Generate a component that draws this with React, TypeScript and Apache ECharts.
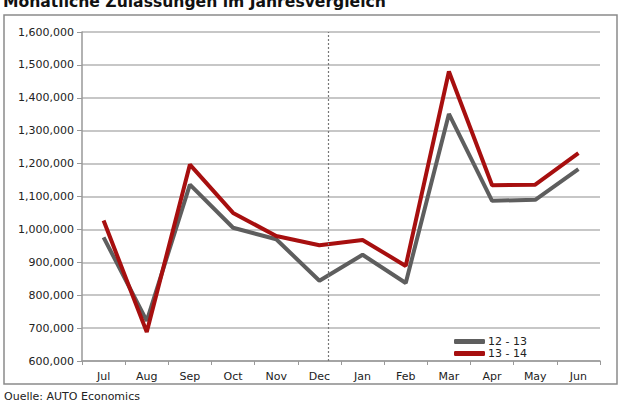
import React, { useEffect, useRef } from 'react';
import * as echarts from 'echarts';

// Monate (Juli bis Juni)
const months = ['Jul', 'Aug', 'Sep', 'Oct', 'Nov', 'Dec', 'Jan', 'Feb', 'Mar', 'Apr', 'May', 'Jun'];

// Zulassungen 2012/13
const season1213 = [976000, 722000, 1136000, 1005000, 970000, 844000, 923000, 837000, 1351000, 1087000, 1090000, 1183000];

// Zulassungen 2013/14
const season1314 = [1027000, 688000, 1197000, 1050000, 980000, 952000, 968000, 889000, 1480000, 1134000, 1136000, 1232000];

const seriesNames = ['12 - 13', '13 - 14'];

// Trennlinie (Position in Kategorien, 0 = Jul)
const dividerPos = 5.2;

const FONT = '"DejaVu Sans", Verdana, sans-serif';

const App: React.FC = () => {
  const chartRef = useRef<HTMLDivElement>(null);

  useEffect(() => {
    document.body.style.margin = '0';
    if (!chartRef.current) return;
    const chart = echarts.init(chartRef.current, undefined, { renderer: 'svg' });

    const option: echarts.EChartsOption = {
      animation: false,
      backgroundColor: '#ffffff',
      textStyle: { fontFamily: FONT },
      graphic: [
        {
          type: 'rect',
          shape: { x: 4, y: 15, width: 613, height: 369 },
          style: { fill: 'none', stroke: '#8a8a8a', lineWidth: 1.5 },
          silent: true,
        },
        {
          type: 'text',
          x: 3,
          y: -6,
          style: {
            text: 'Monatliche Zulassungen im Jahresvergleich',
            font: `bold 15.6px ${FONT}`,
            fill: '#111',
          },
        },
        {
          type: 'text',
          x: 4,
          y: 391,
          style: {
            text: 'Quelle: AUTO Economics',
            font: `11px ${FONT}`,
            fill: '#222',
          },
        },
      ],
      grid: {
        left: 82,
        right: 20,
        top: 32,
        bottom: 39,
      },
      legend: {
        data: seriesNames,
        orient: 'vertical',
        left: 454,
        top: 336,
        padding: 0,
        itemWidth: 31,
        itemHeight: 5,
        itemGap: 1,
        icon: 'roundRect',
        textStyle: { fontSize: 11, lineHeight: 10, color: '#222', fontFamily: FONT, padding: [0, 0, 0, -2] },
      },
      xAxis: [
        {
          type: 'category',
          data: months,
          boundaryGap: true,
          axisLine: { lineStyle: { color: '#999', width: 1.5 } },
          axisTick: { show: true, interval: 0, length: 4, lineStyle: { color: '#999' } },
          axisLabel: { color: '#222', fontSize: 11, margin: 10, interval: 0 },
        },
        {
          type: 'value',
          min: -0.5,
          max: months.length - 0.5,
          show: false,
        },
      ],
      yAxis: {
        type: 'value',
        min: 600000,
        max: 1600000,
        interval: 100000,
        axisLine: { show: true, onZero: false, lineStyle: { color: '#999', width: 1.5 } },
        axisTick: { show: true, length: 5, lineStyle: { color: '#999' } },
        axisLabel: {
          color: '#222',
          fontSize: 11,
          margin: 8,
          formatter: (v: number) => v.toLocaleString('en-US'),
        },
        splitLine: { lineStyle: { color: '#b4b4b4', width: 1.5 } },
      },
      series: [
        {
          name: 'divider',
          type: 'line',
          xAxisIndex: 1,
          data: [],
          silent: true,
          markLine: {
            symbol: 'none',
            silent: true,
            label: { show: false },
            lineStyle: { color: '#777', type: [2, 2], width: 1.2 },
            data: [{ xAxis: dividerPos }],
          },
        },
        {
          name: seriesNames[0],
          type: 'line',
          data: season1213,
          symbol: 'none',
          itemStyle: { color: '#5e5e5e' },
          lineStyle: { color: '#5e5e5e', width: 4 },
        },
        {
          name: seriesNames[1],
          type: 'line',
          data: season1314,
          symbol: 'none',
          itemStyle: { color: '#a70f0f' },
          lineStyle: { color: '#a70f0f', width: 4 },
        },
      ],
    };

    chart.setOption(option);
    return () => {
      chart.dispose();
    };
  }, []);

  return <div ref={chartRef} style={{ width: '620px', height: '400px' }} />;
};

export default App;
